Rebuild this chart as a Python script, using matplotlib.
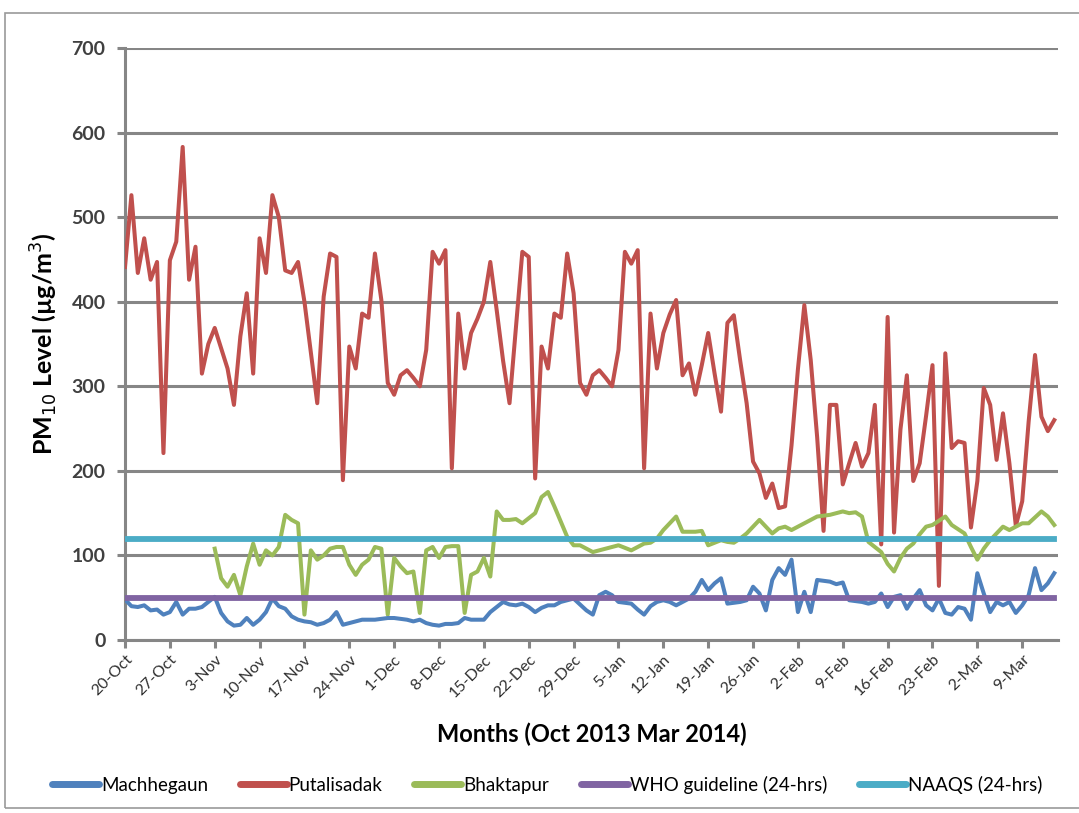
import numpy as np
import pandas as pd
import matplotlib
matplotlib.use("Agg")
import matplotlib.pyplot as plt
import matplotlib.dates as mdates
from matplotlib.patches import Rectangle

plt.rcParams['font.family'] = ['Lato', 'DejaVu Sans']

# daily PM10, 20-Oct-2013 .. 14-Mar-2014
dates = pd.date_range('2013-10-20', periods=146, freq='D')

putalisadak = [
    441, 526, 434, 475, 426, 447, 221, 449, 471, 583,
    426, 465, 315, 350, 369, 345, 321, 278, 359, 410,
    315, 475, 434, 526, 500, 437, 434, 447, 400, 340,
    280, 406, 457, 453, 189, 347, 321, 386, 381, 457,
    402, 304, 290, 313, 319, 310, 300, 343, 459, 445,
    461, 203, 386, 321, 363, 380, 400, 447, 390, 330,
    280, 370, 459, 453, 191, 347, 321, 386, 381, 457,
    410, 304, 290, 313, 319, 310, 300, 343, 459, 445,
    461, 203, 386, 321, 363, 385, 402, 313, 327, 290,
    325, 363, 315, 270, 375, 384, 330, 280, 211, 197,
    168, 185, 156, 158, 230, 320, 396, 331, 240, 129,
    278, 278, 184, 209, 233, 205, 221, 278, 113, 382,
    127, 249, 313, 188, 209, 265, 325, 64, 339, 227,
    235, 233, 133, 188, 298, 278, 213, 268, 209, 135,
    164, 258, 337, 264, 247, 260,
]

machhegaun = [
    48, 40, 39, 41, 35, 36, 30, 33, 45, 30,
    37, 37, 39, 45, 51, 32, 22, 17, 18, 26,
    18, 24, 33, 49, 40, 37, 28, 24, 22, 21,
    18, 20, 24, 33, 18, 20, 22, 24, 24, 24,
    25, 26, 26, 25, 24, 22, 24, 20, 18, 17,
    19, 19, 20, 26, 24, 24, 24, 33, 39, 45,
    42, 41, 43, 39, 33, 38, 41, 41, 45, 47,
    49, 42, 35, 30, 53, 57, 53, 45, 44, 43,
    36, 30, 40, 45, 47, 45, 41, 45, 49, 57,
    71, 59, 67, 73, 43, 44, 45, 47, 63, 55,
    35, 71, 85, 77, 95, 33, 57, 33, 71, 70,
    69, 66, 68, 47, 46, 45, 43, 45, 55, 39,
    51, 53, 37, 49, 59, 41, 35, 49, 32, 30,
    39, 37, 24, 79, 55, 33, 45, 41, 45, 32,
    41, 53, 85, 59, 67, 79,
]

# Bhaktapur starts on 3-Nov (no data before)
bhaktapur = [np.nan] * 14 + [
    108, 73, 63, 77, 53, 87, 114, 89, 106, 100,
    110, 148, 142, 138, 30, 106, 95, 100, 108, 110,
    110, 89, 77, 89, 95, 110, 108, 30, 97, 87,
    79, 81, 32, 106, 110, 97, 110, 111, 111, 32,
    77, 81, 97, 75, 152, 142, 142, 143, 138, 144,
    150, 169, 175, 158, 140, 122, 112, 112, 108, 104,
    106, 108, 110, 112, 109, 106, 110, 114, 115, 120,
    130, 138, 146, 128, 128, 128, 129, 112, 115, 118,
    116, 115, 120, 126, 134, 142, 134, 126, 132, 134,
    130, 134, 138, 142, 146, 147, 148, 150, 152, 150,
    151, 146, 116, 110, 104, 90, 81, 97, 108, 114,
    125, 134, 136, 141, 146, 136, 131, 126, 110, 95,
    108, 118, 126, 134, 130, 134, 138, 138, 145, 152,
    146, 136,
]

who_limit = 50
naaqs_limit = 120

fig = plt.figure(figsize=(10.79, 8.13), dpi=100)
ax = fig.add_axes([125 / 1079, 1 - 640 / 813, 933 / 1079, 592 / 813])

# chart area border
fig.patches.append(Rectangle((5 / 1079, 1 - 808 / 813), 1.1, 795 / 813,
                             transform=fig.transFigure, fill=False,
                             edgecolor='#9a9a9a', linewidth=1.2))

lw = 2.9
ax.plot(dates, machhegaun, color='#4F81BD', lw=lw, label='Machhegaun', zorder=4)
ax.plot(dates, putalisadak, color='#C0504D', lw=lw, label='Putalisadak', zorder=3)
ax.plot(dates, bhaktapur, color='#9BBB59', lw=lw, label='Bhaktapur', zorder=3)
ax.plot(dates, [who_limit] * len(dates), color='#8064A2', lw=4.2,
        label='WHO guideline (24-hrs)', zorder=5)
ax.plot(dates, [naaqs_limit] * len(dates), color='#4BACC6', lw=4.2,
        label='NAAQS (24-hrs)', zorder=5)

ax.set_ylim(0, 700)
ax.set_yticks(range(0, 701, 100))
ax.set_xlim(dates[0], dates[-1] + pd.Timedelta(hours=14))
ax.set_xticks(dates[::7])
ax.xaxis.set_major_formatter(mdates.DateFormatter('%-d-%b'))

ax.grid(axis='y', color='#868686', lw=2.2)
ax.set_axisbelow(True)
for s in ['top', 'right']:
    ax.spines[s].set_visible(False)
for s in ['left', 'bottom']:
    ax.spines[s].set_color('#868686')
    ax.spines[s].set_linewidth(2.2)
ax.tick_params(axis='both', direction='out', color='#868686', width=2.2, length=6)
ax.tick_params(axis='y', labelsize=14, labelcolor='#404040', pad=8)
ax.tick_params(axis='x', labelsize=11.5, labelcolor='#303030', pad=3)
for t in ax.get_yticklabels():
    t.set_fontweight('bold')
for t in ax.get_xticklabels():
    t.set_rotation(45)
    t.set_ha('right')
    t.set_rotation_mode('anchor')

ax.set_ylabel('PM$_{10}$ Level (µg/m$^{3}$)', fontsize=18, fontweight='bold', labelpad=8)
ax.set_xlabel('Months (Oct 2013 Mar 2014)', fontsize=17, fontweight='bold', labelpad=16)

leg = fig.legend(loc='center', bbox_to_anchor=(0.507, 1 - 785 / 813), ncol=5, frameon=False,
                 fontsize=13.5, handlelength=2.5, handletextpad=0.1, columnspacing=1.7)
for h in leg.get_lines():
    h.set_linewidth(5)
    h.set_solid_capstyle('round')

fig.savefig('out.png', dpi=100)
